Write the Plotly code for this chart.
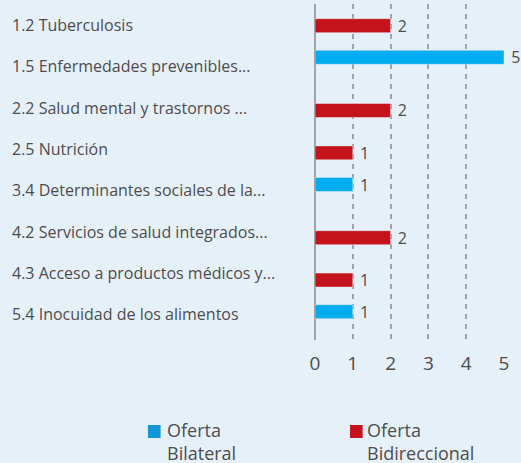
import plotly.graph_objects as go

# Health-area categories (top to bottom) and number of offers per modality
categories = [
    "1.2 Tuberculosis",
    "1.5 Enfermedades prevenibles...",
    "2.2 Salud mental y trastornos ...",
    "2.5 Nutrición",
    "3.4 Determinantes sociales de la...",
    "4.2 Servicios de salud integrados...",
    "4.3 Acceso a productos médicos y...",
    "5.4 Inocuidad de los alimentos",
]
bilateral = [None, 5, None, None, 1, None, None, 1]
bidireccional = [2, None, 2, 1, None, 2, 1, None]
series_names = ["Oferta<br>Bilateral", "Oferta<br>Bidireccional"]
x_ticks = [0, 1, 2, 3, 4, 5]

BG = "#e6f0f9"
BLUE = "#00adef"
RED = "#c4131b"
KEY_BLUE = "#1396d6"
TEXT = "#4d4d4d"
FONT = "Open Sans"

fig = go.Figure()

for vals, color, offset in ((bilateral, BLUE, -0.292), (bidireccional, RED, -0.038)):
    fig.add_trace(go.Bar(
        y=categories, x=vals, orientation="h",
        marker_color=color, width=0.33, offset=offset,
        texttemplate="\u00a0%{x}", textposition="outside", cliponaxis=False,
        constraintext="none",
        textfont=dict(family=FONT, size=16, color=TEXT),
        showlegend=False,
    ))

# Left-aligned category labels, placed on their own (slightly tighter) row scale
for i, cat in enumerate(categories):
    fig.add_annotation(
        x=-1.614, xref="paper", y=i, yref="y2",
        text=cat, showarrow=False, xanchor="left", yanchor="middle",
        font=dict(family=FONT, size=16, color=TEXT),
    )

# Legend below the chart: colour key plus two-line caption
for name, color, kx0, kx1, tx in (
    (series_names[0], KEY_BLUE, -0.884, -0.817, -0.794),
    (series_names[1], RED, 0.185, 0.252, 0.2646),
):
    fig.add_shape(
        type="rect", xref="paper", yref="paper",
        x0=kx0, x1=kx1, y0=-0.2917, y1=-0.253,
        fillcolor=color, line_width=0,
    )
    fig.add_annotation(
        x=tx, xref="paper", y=-0.227, yref="paper",
        text=name, showarrow=False, xanchor="left", yanchor="top", align="left",
        font=dict(family=FONT, size=18, color=TEXT),
    )

fig.update_layout(
    width=521, height=463,
    margin=dict(l=315, r=17, t=4, b=123),
    paper_bgcolor=BG, plot_bgcolor=BG,
    barmode="overlay",
    showlegend=False,
    font=dict(family=FONT, color=TEXT),
    xaxis=dict(
        range=[0, 5], tickvals=x_ticks,
        showgrid=True, gridcolor="#a3a3a3", gridwidth=2, griddash="5px,5px",
        zeroline=True, zerolinecolor="#a3a3a3", zerolinewidth=2,
        showline=False, ticks="", ticklabelstandoff=10,
        tickfont=dict(family=FONT, size=19, color=TEXT),
        fixedrange=True,
    ),
    yaxis=dict(
        type="category", categoryorder="array", categoryarray=categories,
        range=[7.540, -0.384],
        showticklabels=False, showgrid=False, zeroline=False, showline=False,
        ticks="", fixedrange=True,
    ),
    yaxis2=dict(
        overlaying="y", type="linear", range=[7.627, -0.508],
        showticklabels=False, showgrid=False, zeroline=False, showline=False,
        ticks="", fixedrange=True,
    ),
)

fig.write_html("out.html")
